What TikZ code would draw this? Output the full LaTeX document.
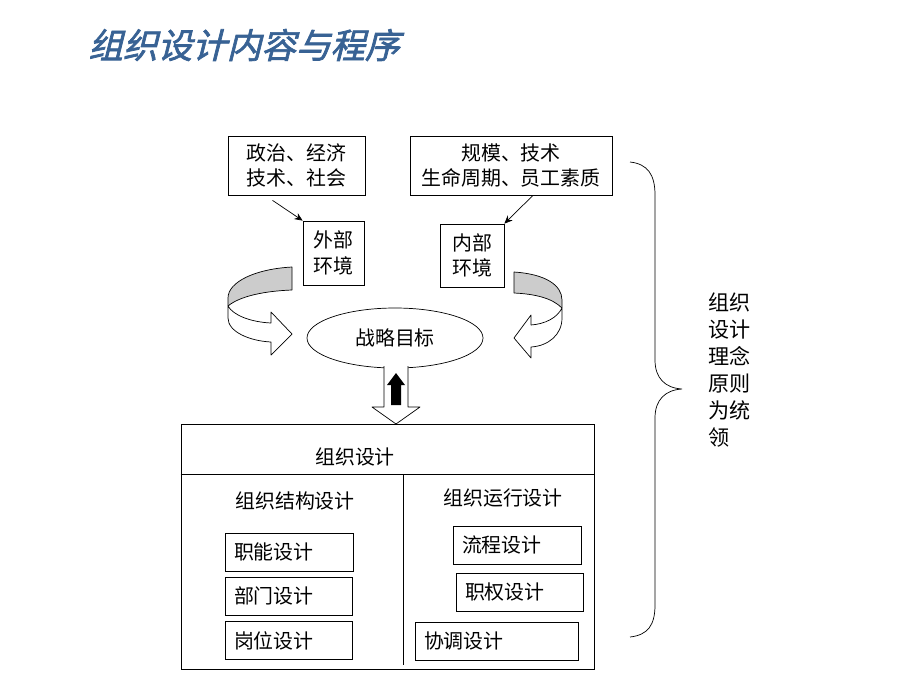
\documentclass[tikz,border=0pt]{standalone}
\usepackage{fontspec}
\setmainfont{Noto Sans CJK SC}
\newfontfamily\titlefont[FakeSlant=0.25,FakeBold=2]{Noto Sans CJK SC}
\usetikzlibrary{shapes.geometric,calc,arrows.meta}
\definecolor{titleblue}{RGB}{56,98,148}
\definecolor{bandgrey}{RGB}{204,204,204}

\begin{document}
\begin{tikzpicture}
[x=0.03cm,y=-0.03cm,
  every node/.style={font=\fontsize{17}{22}\selectfont},
  boxdecorate/.style={shape=rectangle,draw,line width=0.6pt,inner sep=0pt,align=center},
  tabdecorate/.style={shape=rectangle,draw,line width=0.6pt,inner xsep=0.27cm,inner ysep=0pt,
    minimum height=1.14cm,text width=#1,align=left},
  arrowdecorate/.style={-{Stealth[length=7pt,width=6pt]},line width=0.6pt},
  banddecorate/.style={draw,line width=0.6pt,line join=round}]
\useasboundingbox (0,0) rectangle (920,690);
%% title
\node (title) at (244,45) [font=\titlefont\fontsize{29.5}{29.5}\selectfont,text=titleblue] {组织设计内容与程序};
%% environment factors
\node (outside) at (296.5,165.5) [boxdecorate,minimum width=4.11cm,minimum height=1.77cm] {政治、经济\\技术、社会};
\node (inside) at (511,165.5) [boxdecorate,minimum width=6.06cm,minimum height=1.77cm] {规模、技术\\生命周期、员工素质};
\node (external) at (333.5,253) [boxdecorate,minimum width=1.83cm,minimum height=1.92cm] {外部\\环境};
\node (internal) at (472,255.5) [boxdecorate,minimum width=1.92cm,minimum height=1.89cm] {内部\\环境};
\draw[arrowdecorate] ($(outside.south)+(-24,5)$) -- (external.north west);
\draw[arrowdecorate] ($(inside.south)+(22,0)$) -- (internal.north east);
%% curved bands towards the goal
\fill[bandgrey] (292,267) .. controls (255,269) and (228,282) .. (228,298) -- (228,306)
  .. controls (240,296) and (265,291) .. (292,290) -- cycle;
\draw[banddecorate] (292,290) -- (292,267) .. controls (255,269) and (228,282) .. (228,298)
  -- (228,318) .. controls (228,332) and (250,341) .. (271,342) -- (271,355) -- (292,334)
  -- (271,312) -- (271,323) .. controls (250,322) and (233,315) .. (228,306);
\draw[banddecorate] (292,290) .. controls (265,291) and (240,296) .. (228,306);
\fill[bandgrey] (514,272) .. controls (545,274) and (562,285) .. (562,300) -- (562,308)
  .. controls (552,298) and (535,294) .. (514,293) -- cycle;
\draw[banddecorate] (514,293) -- (514,272) .. controls (545,274) and (562,285) .. (562,300)
  -- (562,318) .. controls (562,335) and (548,346) .. (531,347) -- (531,358) -- (514,338)
  -- (531,315) -- (531,325) .. controls (545,324) and (557,318) .. (562,308);
\draw[banddecorate] (514,293) .. controls (535,294) and (552,298) .. (562,308);
%% goal
\node (goal) at (395,338) [shape=ellipse,draw,line width=0.6pt,inner sep=0pt,
  minimum width=5.28cm,minimum height=1.8cm] {战略目标};
\draw[banddecorate,fill=white] (384,366) -- (384,407) -- (372,407) -- (396,424) -- (420,407)
  -- (408,407) -- (408,366);
\fill (391,405) -- (391,385) -- (387,385) -- (396,373) -- (405,385) -- (401,385) -- (401,405) -- cycle;
%% organisation design box
\node (design) at (387.5,546.5) [boxdecorate,minimum width=12.39cm,minimum height=7.35cm] {};
\coordinate (headline) at (0,474);
\draw[line width=0.6pt] (design.west |- headline) -- (design.east |- headline);
\coordinate (divtop) at (403,474);
\draw[line width=0.6pt] (divtop) -- ++(0,191);
\node (designtitle) at (355,457) {组织设计};
\node (structure) at (295,501) {组织结构设计};
\node (operation) at (503,498) {组织运行设计};
\foreach \nodename/\x/\y/\w/\label in {function/289/552/3.30cm/职能设计,
  department/288.5/596/3.27cm/部门设计, post/288.5/640.5/3.27cm/岗位设计,
  process/517/545/3.30cm/流程设计, authority/519.5/592/3.27cm/职权设计,
  coordination/496.5/641/4.35cm/协调设计} {
  \node (\nodename) at (\x,\y) [tabdecorate=\w] {\label};
}
%% brace and principle
\draw[line width=0.6pt] (630,162) .. controls (648,164) and (655,175) .. (655,195) -- (655,360)
  .. controls (655,378) and (665,388) .. (682,389) .. controls (665,390) and (655,400) .. (655,418)
  -- (655,605) .. controls (655,625) and (648,635) .. (630,637);
\node (principle) at (708,370) [anchor=west,align=left,inner sep=0pt,
  font=\fontsize{18}{23.2}\selectfont] {组织\\设计\\理念\\原则\\为统\\领};
\end{tikzpicture}
\end{document}
